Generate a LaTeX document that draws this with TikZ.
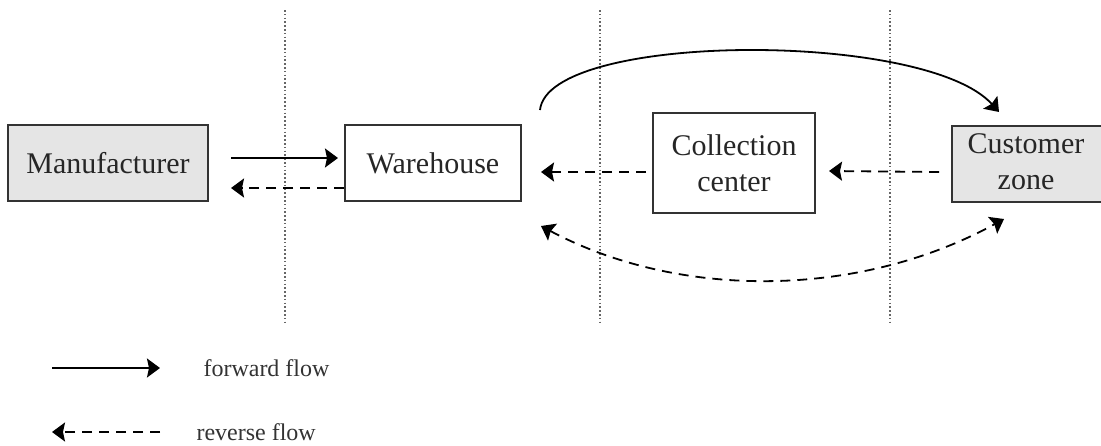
\documentclass[tikz,border=0pt]{standalone}
\usepackage{fontspec}
\setmainfont{Liberation Serif}
\usetikzlibrary{arrows.meta,calc}
\begin{document}
\begin{tikzpicture}[x=1pt,y=-1pt,
  box/.style={draw=black!80,line width=2pt,inner sep=0pt,align=center,
    font=\fontsize{30}{36}\selectfont,text=black!85},
  graybox/.style={box,fill=black!10},
  head/.tip={Stealth[length=13pt,width=19pt,inset=2pt]},
  fwd/.style={line width=1.8pt,-head},
  rev/.style={line width=1.8pt,dash pattern=on 10pt off 7pt,-head},
  divider/.style={line width=1.6pt,black!60,dash pattern=on 1.6pt off 2.2pt},
  legendtext/.style={anchor=west,font=\fontsize{24}{28}\selectfont,text=black!80}]
\useasboundingbox (0,0) rectangle (1101,445);
\clip (0,0) rectangle (1101,445);

% stage dividers
\draw[divider] (285,10) -- (285,322);
\draw[divider] (600,10) -- (600,322);
\draw[divider] (890,10) -- (890,322);

% facilities
\node[graybox,minimum width=200pt,minimum height=76pt] (man) at (108,163) {Manufacturer};
\node[box,minimum width=176pt,minimum height=76pt] (wh) at (433,163) {Warehouse};
\node[box,minimum width=162pt,minimum height=100pt] (col) at (734,163) {Collection\\center};
\node[graybox,minimum width=180pt,minimum height=76pt] (cus) at (1042,164)
  {\begin{tabular}{@{}c@{}}Customer\\zone\end{tabular}\hspace*{32pt}};

% flows between neighbouring stages
\draw[fwd] ($(man.east)+(22,-5)$) -- ($(wh.west)+(-6,-5)$);
\draw[rev] ($(wh.west)+(0,25)$) -- ($(man.east)+(22,25)$);
\draw[rev] ($(col.west)+(-6,9)$) -- ($(wh.east)+(19,9)$);
\draw[rev] ($(cus.west)+(-12,8)$) -- ($(col.east)+(13,8)$);

% direct flows between warehouse and customer zone
\coordinate (a1) at (540,110);
\coordinate (a2) at (999,112);
\coordinate (b1) at (541,226);
\coordinate (b2) at (1004,219);
\draw[fwd] (a1) .. controls (548,32) and (925,30) .. (a2);
\draw[line width=1.8pt,dash pattern=on 10pt off 7pt,head-head]
  (b1) .. controls (680,300) and (860,298) .. (b2);

% legend
\coordinate (l1) at (52,368);
\coordinate (l2) at (160,368);
\coordinate (l3) at (160,432);
\coordinate (l4) at (52,432);
\draw[fwd] (l1) -- (l2);
\draw[rev] (l3) -- (l4);
\node[legendtext] (lf) at (200,368) {forward flow};
\node[legendtext] (lr) at (193,432) {reverse flow};
\end{tikzpicture}
\end{document}
